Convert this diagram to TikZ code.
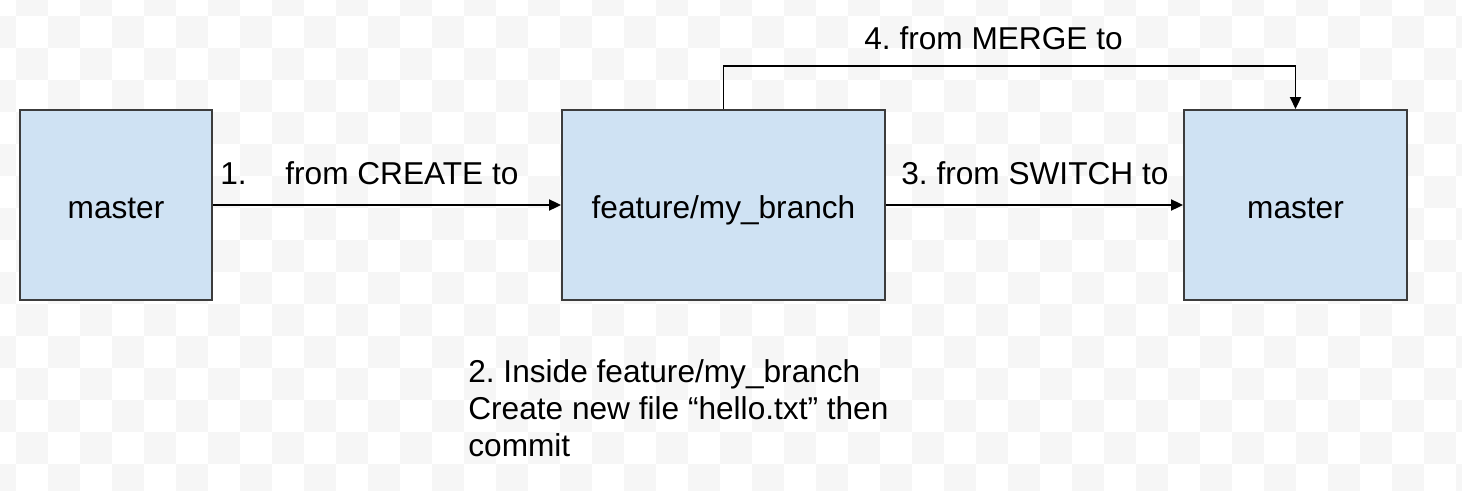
\documentclass[tikz,border=0pt]{standalone}
\usepackage{fontspec}
\setmainfont{Liberation Sans}
\usepackage{tikz}
\usetikzlibrary{arrows.meta,positioning}
\definecolor{boxblue}{HTML}{CFE2F3}
\definecolor{boxline}{HTML}{3C3C3C}
\definecolor{checkgrey}{HTML}{F6F6F6}
\frenchspacing

\begin{document}
\begin{tikzpicture}[x=0.02cm,y=-0.02cm,
  branch/.style={draw=boxline,fill=boxblue,line width=1.1pt,minimum height=3.8cm,inner sep=0pt,text height=15.9pt,text depth=0pt},
  lbl/.style={inner sep=0pt,anchor=base west},
  arr/.style={line width=1.1pt,-{Triangle[length=0.24cm,width=0.22cm]}},
  font=\fontsize{18}{21}\selectfont]
\useasboundingbox (0,0) rectangle (1462,490);
% background checks
\begin{scope}
\clip (0,0) rectangle (1462,490);
\foreach \i in {0,...,46}{
  \foreach \j in {0,...,15}{
    \pgfmathtruncatemacro\odd{mod(\i+\j,2)}
    \ifnum\odd=1 \fill[checkgrey] (32*\i-16,32*\j-16) rectangle +(32,32); \fi
  }
}
\end{scope}
\node[branch,minimum width=3.84cm] (m1) at (116,205) {master};
\node[branch,minimum width=6.46cm] (fb) at (723.5,205) {feature/my\_branch};
\node[branch,minimum width=4.46cm] (m2) at (1295.5,205) {master};
\node[lbl] (n1) at (220,184) {1.};
\node[lbl] (c1) at (285,184) {from CREATE to};
\node[lbl] (c3) at (901,184) {3. from SWITCH to};
\node[lbl] (c4) at (864,49) {4. from MERGE to};
\node[inner sep=0pt,anchor=west,align=left] (c2) at (468,408) {2. Inside feature/my\_branch\\Create new file “hello.txt” then\\commit};
\draw[arr] (m1) -- (fb);
\draw[arr] (fb) -- (m2);
\draw[arr] (fb.north) -- ++(0,-43) -| (m2.north);
\end{tikzpicture}
\end{document}
